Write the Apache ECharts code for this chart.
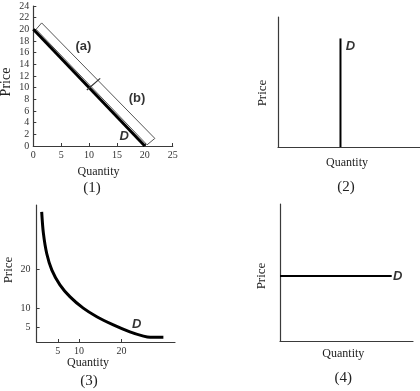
<!DOCTYPE html>
<html><head><meta charset="utf-8">
<script src="https://cdn.jsdelivr.net/npm/echarts@6/dist/echarts.min.js"></script>
<style>html,body{margin:0;padding:0;background:#fff}#c{width:420px;height:391px}</style>
</head><body><div id="c"></div>
<script>
// ---- Panel (1): linear demand curve ----
const p1Demand = [[0, 20], [20, 0]];
const p1Box = [[0.5, 20.0], [1.5, 21.1], [21.8, 1.3], [20.4, 0.2], [0.5, 20.0]];
const p1Mid = [[9.6, 9.6], [12.0, 11.6]];
const p1Labels = [
  { name: '(a)', value: [9.0, 17.0] },
  { name: '(b)', value: [18.6, 8.2] },
  { name: 'D', value: [16.3, 1.7] }
];
// ---- Panel (2): vertical demand ----
const p2Demand = [[4.4, 0], [4.4, 8.35]];
const p2Labels = [{ name: 'D', value: [5.1, 7.7] }];
// ---- Panel (3): curved demand ----
const p3Q = [1.2, 1.6, 2.4, 3.6, 5.5, 7.9, 11.0, 14.2, 18.1, 22.0, 25.2, 26.8, 29.9];
const p3P = [34.8, 29.3, 24.0, 19.8, 16.0, 12.9, 10.0, 7.8, 5.7, 3.9, 2.8, 2.5, 2.5];
const p3XTicks = [5, 10, 20];
const p3YTicks = [5, 10, 20];
const p3Labels = [{ name: 'D', value: [23.6, 5.7] }];
// ---- Panel (4): horizontal demand ----
const p4Demand = [[0, 4.75], [8.4, 4.75]];
const p4Labels = [{ name: 'D', value: [8.85, 4.75] }];

const SERIF = 'Liberation Serif';
const SANS = 'Liberation Sans';
const AX = '#3a3a3a';

function axisBase(extra) {
  return Object.assign({
    type: 'value',
    splitLine: { show: false },
    axisLine: { show: true, lineStyle: { color: AX, width: 1.2 } },
    axisTick: { show: false },
    axisLabel: { show: false }
  }, extra);
}
const tickStyle = { show: true, inside: true, length: 3, lineStyle: { color: AX, width: 1 } };
const labStyle = { color: '#333', fontFamily: SERIF, fontSize: 10, showMinLabel: true, showMaxLabel: true };

function labelSeries(data, xi, style) {
  return {
    type: 'scatter', xAxisIndex: xi, yAxisIndex: xi, symbolSize: 0, silent: true,
    data: data,
    label: Object.assign({ show: true, position: 'inside', formatter: p => p.name, color: '#000', fontFamily: SANS, fontWeight: 'bold', fontSize: 13 }, style)
  };
}
function lineSeries(data, xi, width, color, smooth) {
  return { type: 'line', xAxisIndex: xi, yAxisIndex: xi, data: data, symbol: 'none', silent: true,
    smooth: smooth || false,
    lineStyle: { color: color, width: width } };
}

const D_STYLE = { fontStyle: 'italic' };

const option = {
  backgroundColor: '#fff',
  animation: false,
  grid: [
    { left: 33.3, top: 6, width: 139.4, height: 140 },
    { left: 278, top: 17, width: 142, height: 130 },
    { left: 36.6, top: 205, width: 138.4, height: 137 },
    { left: 280, top: 204, width: 133, height: 137 }
  ],
  xAxis: [
    axisBase({ gridIndex: 0, min: 0, max: 25, interval: 5, axisTick: tickStyle, axisLabel: Object.assign({ show: true, margin: 4 }, labStyle) }),
    axisBase({ gridIndex: 1, min: 0, max: 10 }),
    axisBase({ gridIndex: 2, min: 0, max: 32.64, axisTick: Object.assign({ customValues: p3XTicks }, tickStyle), axisLabel: Object.assign({ show: true, margin: 4, customValues: p3XTicks }, labStyle) }),
    axisBase({ gridIndex: 3, min: 0, max: 10 })
  ],
  yAxis: [
    axisBase({ gridIndex: 0, min: 0, max: 24, interval: 2, axisTick: tickStyle, axisLabel: Object.assign({ show: true, margin: 4 }, labStyle) }),
    axisBase({ gridIndex: 1, min: 0, max: 10 }),
    axisBase({ gridIndex: 2, min: 1.29, max: 36.55, axisTick: Object.assign({ customValues: p3YTicks }, tickStyle), axisLabel: Object.assign({ show: true, margin: 6, customValues: p3YTicks }, labStyle) }),
    axisBase({ gridIndex: 3, min: 0, max: 10 })
  ],
  series: [
    lineSeries(p1Box, 0, 1, '#555'),
    lineSeries(p1Demand, 0, 3, '#000'),
    lineSeries(p1Mid, 0, 1.2, '#333'),
    labelSeries(p1Labels.map(d => d.name === 'D' ? Object.assign({ label: D_STYLE }, d) : d), 0, {}),
    lineSeries(p2Demand, 1, 2, '#000'),
    labelSeries(p2Labels, 1, D_STYLE),
    lineSeries(p3Q.map((q, i) => [q, p3P[i]]), 2, 3, '#000', 0.3),
    labelSeries(p3Labels, 2, D_STYLE),
    lineSeries(p4Demand, 3, 2, '#000'),
    labelSeries(p4Labels, 3, D_STYLE)
  ],
  graphic: [
    ['Price', 6.7, 82, 14, true], ['Quantity', 98.5, 172, 12, false], ['(1)', 92, 188, 15, false],
    ['Price', 262.7, 93, 13, true], ['Quantity', 347, 163, 12, false], ['(2)', 346, 187, 15, false],
    ['Price', 8.3, 270, 13, true], ['Quantity', 88, 363, 12, false], ['(3)', 89, 381, 15, false],
    ['Price', 261.7, 276, 13, true], ['Quantity', 343.3, 354, 12, false], ['(4)', 343.3, 378, 15, false]
  ].map(([t, x, y, fs, rot]) => ({
    type: 'text', x: x, y: y, rotation: rot ? Math.PI / 2 : 0, silent: true,
    style: { text: t, x: 0, y: 0, align: 'center', verticalAlign: 'middle', fill: '#222', font: fs + 'px "' + SERIF + '"' }
  }))
};
echarts.init(document.getElementById('c'), null, { renderer: 'canvas' }).setOption(option);
</script></body></html>
